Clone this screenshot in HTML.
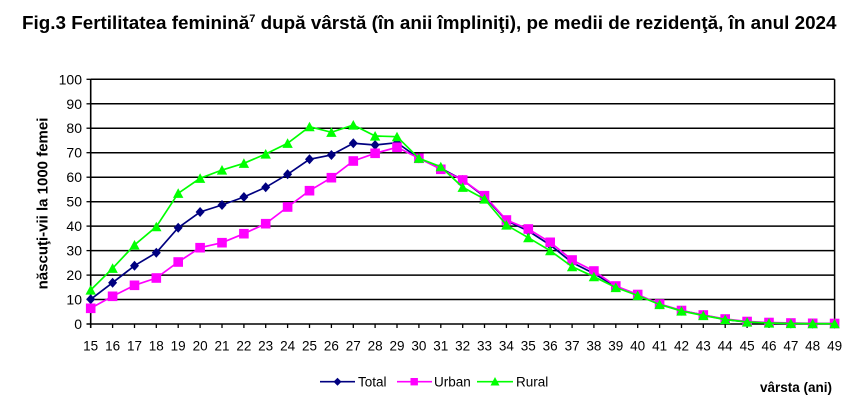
<!DOCTYPE html>
<html><head><meta charset="utf-8"><style>
html,body{margin:0;padding:0;background:#fff;}
svg{display:block;font-family:"Liberation Sans",Arial,sans-serif;}
</style></head><body>
<svg width="851" height="410" viewBox="0 0 851 410" xmlns="http://www.w3.org/2000/svg">
<defs>
<marker id="md" markerUnits="userSpaceOnUse" markerWidth="12" markerHeight="12" refX="6" refY="6" viewBox="0 0 12 12"><path d="M6 1 L10.5 6 L6 11 L1.5 6 Z" fill="#000080"/></marker>
<marker id="ms" markerUnits="userSpaceOnUse" markerWidth="12" markerHeight="12" refX="6" refY="6" viewBox="0 0 12 12"><rect x="1.2" y="1.2" width="9.6" height="9.6" fill="#FF00FF"/></marker>
<marker id="mt" markerUnits="userSpaceOnUse" markerWidth="12" markerHeight="12" refX="6" refY="6" viewBox="0 0 12 12"><path d="M6 1 L11.2 10.6 L0.8 10.6 Z" fill="#00FF00"/></marker>
</defs>
<text x="22" y="29" font-size="18.85" font-weight="bold" fill="#000">Fig.3 Fertilitatea feminină<tspan font-size="11" dy="-7">7</tspan><tspan dy="7"> după vârstă (în anii împliniţi), pe medii de rezidenţă, în anul 2024</tspan></text>
<g stroke="#000" stroke-width="1.5">
<line x1="90.7" y1="79.3" x2="834.6" y2="79.3"/>
<line x1="90.7" y1="103.8" x2="834.6" y2="103.8"/>
<line x1="90.7" y1="128.2" x2="834.6" y2="128.2"/>
<line x1="90.7" y1="152.7" x2="834.6" y2="152.7"/>
<line x1="90.7" y1="177.2" x2="834.6" y2="177.2"/>
<line x1="90.7" y1="201.7" x2="834.6" y2="201.7"/>
<line x1="90.7" y1="226.1" x2="834.6" y2="226.1"/>
<line x1="90.7" y1="250.6" x2="834.6" y2="250.6"/>
<line x1="90.7" y1="275.1" x2="834.6" y2="275.1"/>
<line x1="90.7" y1="299.5" x2="834.6" y2="299.5"/>
<line x1="834.6" y1="79.3" x2="834.6" y2="324"/>
</g>
<g stroke="#000" stroke-width="1.6">
<line x1="90.7" y1="79" x2="90.7" y2="328"/>
<line x1="86.5" y1="324" x2="834.6" y2="324"/>
</g>
<g stroke="#000" stroke-width="1.3">
<line x1="86.5" y1="79.3" x2="90.7" y2="79.3"/><line x1="86.5" y1="103.8" x2="90.7" y2="103.8"/><line x1="86.5" y1="128.2" x2="90.7" y2="128.2"/><line x1="86.5" y1="152.7" x2="90.7" y2="152.7"/><line x1="86.5" y1="177.2" x2="90.7" y2="177.2"/><line x1="86.5" y1="201.7" x2="90.7" y2="201.7"/><line x1="86.5" y1="226.1" x2="90.7" y2="226.1"/><line x1="86.5" y1="250.6" x2="90.7" y2="250.6"/><line x1="86.5" y1="275.1" x2="90.7" y2="275.1"/><line x1="86.5" y1="299.5" x2="90.7" y2="299.5"/>
<line x1="112.6" y1="324" x2="112.6" y2="328"/><line x1="134.5" y1="324" x2="134.5" y2="328"/><line x1="156.3" y1="324" x2="156.3" y2="328"/><line x1="178.2" y1="324" x2="178.2" y2="328"/><line x1="200.1" y1="324" x2="200.1" y2="328"/><line x1="222" y1="324" x2="222" y2="328"/><line x1="243.9" y1="324" x2="243.9" y2="328"/><line x1="265.7" y1="324" x2="265.7" y2="328"/><line x1="287.6" y1="324" x2="287.6" y2="328"/><line x1="309.5" y1="324" x2="309.5" y2="328"/><line x1="331.4" y1="324" x2="331.4" y2="328"/><line x1="353.3" y1="324" x2="353.3" y2="328"/><line x1="375.1" y1="324" x2="375.1" y2="328"/><line x1="397" y1="324" x2="397" y2="328"/><line x1="418.9" y1="324" x2="418.9" y2="328"/><line x1="440.8" y1="324" x2="440.8" y2="328"/><line x1="462.7" y1="324" x2="462.7" y2="328"/><line x1="484.5" y1="324" x2="484.5" y2="328"/><line x1="506.4" y1="324" x2="506.4" y2="328"/><line x1="528.3" y1="324" x2="528.3" y2="328"/><line x1="550.2" y1="324" x2="550.2" y2="328"/><line x1="572.1" y1="324" x2="572.1" y2="328"/><line x1="593.9" y1="324" x2="593.9" y2="328"/><line x1="615.8" y1="324" x2="615.8" y2="328"/><line x1="637.7" y1="324" x2="637.7" y2="328"/><line x1="659.6" y1="324" x2="659.6" y2="328"/><line x1="681.5" y1="324" x2="681.5" y2="328"/><line x1="703.3" y1="324" x2="703.3" y2="328"/><line x1="725.2" y1="324" x2="725.2" y2="328"/><line x1="747.1" y1="324" x2="747.1" y2="328"/><line x1="769" y1="324" x2="769" y2="328"/><line x1="790.9" y1="324" x2="790.9" y2="328"/><line x1="812.7" y1="324" x2="812.7" y2="328"/><line x1="834.6" y1="324" x2="834.6" y2="328"/>
</g>
<g font-size="14" text-anchor="end" fill="#000">
<text x="82" y="84.3">100</text><text x="82" y="108.8">90</text><text x="82" y="133.2">80</text><text x="82" y="157.7">70</text><text x="82" y="182.2">60</text><text x="82" y="206.7">50</text><text x="82" y="231.1">40</text><text x="82" y="255.6">30</text><text x="82" y="280.1">20</text><text x="82" y="304.5">10</text><text x="82" y="329">0</text>
</g>
<g font-size="13.5" text-anchor="middle" fill="#000">
<text x="90.7" y="350.5">15</text><text x="112.6" y="350.5">16</text><text x="134.5" y="350.5">17</text><text x="156.3" y="350.5">18</text><text x="178.2" y="350.5">19</text><text x="200.1" y="350.5">20</text><text x="222" y="350.5">21</text><text x="243.9" y="350.5">22</text><text x="265.7" y="350.5">23</text><text x="287.6" y="350.5">24</text><text x="309.5" y="350.5">25</text><text x="331.4" y="350.5">26</text><text x="353.3" y="350.5">27</text><text x="375.1" y="350.5">28</text><text x="397" y="350.5">29</text><text x="418.9" y="350.5">30</text><text x="440.8" y="350.5">31</text><text x="462.7" y="350.5">32</text><text x="484.5" y="350.5">33</text><text x="506.4" y="350.5">34</text><text x="528.3" y="350.5">35</text><text x="550.2" y="350.5">36</text><text x="572.1" y="350.5">37</text><text x="593.9" y="350.5">38</text><text x="615.8" y="350.5">39</text><text x="637.7" y="350.5">40</text><text x="659.6" y="350.5">41</text><text x="681.5" y="350.5">42</text><text x="703.3" y="350.5">43</text><text x="725.2" y="350.5">44</text><text x="747.1" y="350.5">45</text><text x="769" y="350.5">46</text><text x="790.9" y="350.5">47</text><text x="812.7" y="350.5">48</text><text x="834.6" y="350.5">49</text>
</g>
<text transform="translate(47.5,203.5) rotate(-90)" text-anchor="middle" font-size="15" font-weight="bold" fill="#000">născuţi-vii la 1000 femei</text>

<polyline fill="none" stroke="#000080" stroke-width="1.7" marker-start="url(#md)" marker-mid="url(#md)" marker-end="url(#md)" points="90.7,299.3 112.6,282.7 134.5,265.7 156.3,252.7 178.2,227.7 200.1,212 222,205 243.9,197 265.7,187.3 287.6,174.3 309.5,159.3 331.4,155 353.3,143.3 375.1,145 397,142.7 418.9,158.3 440.8,168.3 462.7,180 484.5,196.7 506.4,220.5 528.3,231 550.2,245 572.1,262.5 593.9,273.5 615.8,286.7 637.7,295 659.6,304.3 681.5,310.7 703.3,315 725.2,319.5 747.1,322 769,323 790.9,323.5 812.7,323.6 834.6,323.7"/>
<polyline fill="none" stroke="#FF00FF" stroke-width="1.7" marker-start="url(#ms)" marker-mid="url(#ms)" marker-end="url(#ms)" points="90.7,308.3 112.6,296.3 134.5,285.3 156.3,278 178.2,262 200.1,247.7 222,242.7 243.9,233.7 265.7,223.7 287.6,207 309.5,190.7 331.4,177.7 353.3,161 375.1,153.3 397,147.3 418.9,158.3 440.8,169.3 462.7,180 484.5,195.7 506.4,220 528.3,229 550.2,242.3 572.1,260 593.9,271 615.8,286 637.7,294.5 659.6,304 681.5,310.5 703.3,315 725.2,319 747.1,321.5 769,322.5 790.9,323 812.7,323.3 834.6,323.5"/>
<polyline fill="none" stroke="#00FF00" stroke-width="1.7" marker-start="url(#mt)" marker-mid="url(#mt)" marker-end="url(#mt)" points="90.7,290 112.6,268.3 134.5,245 156.3,226.7 178.2,193.3 200.1,178.3 222,170 243.9,163.3 265.7,154 287.6,143.3 309.5,126.7 331.4,132.3 353.3,125 375.1,136 397,136.7 418.9,158.3 440.8,166.7 462.7,187.3 484.5,199 506.4,225 528.3,237.7 550.2,250.7 572.1,266.7 593.9,276.7 615.8,287.5 637.7,295.5 659.6,304.5 681.5,311 703.3,315.5 725.2,319.5 747.1,322 769,323 790.9,323.5 812.7,323.6 834.6,323.7"/>

<g font-size="13.5" fill="#000">
<line x1="320" y1="381.7" x2="355" y2="381.7" stroke="#000080" stroke-width="1.6"/>
<path d="M337.5 377.7 L341.5 381.7 L337.5 385.7 L333.5 381.7 Z" fill="#000080"/>
<text x="358" y="386.5">Total</text>
<line x1="397" y1="381.7" x2="432" y2="381.7" stroke="#FF00FF" stroke-width="1.6"/>
<rect x="410.5" y="378" width="7.4" height="7.4" fill="#FF00FF"/>
<text x="434" y="386.5">Urban</text>
<line x1="477" y1="381.7" x2="513" y2="381.7" stroke="#00FF00" stroke-width="1.6"/>
<path d="M495 377 L499.5 385.5 L490.5 385.5 Z" fill="#00FF00"/>
<text x="516" y="386.5">Rural</text>
</g>
<text x="760" y="392" font-size="13.5" font-weight="bold" fill="#000">vârsta (ani)</text>
</svg>
</body></html>
